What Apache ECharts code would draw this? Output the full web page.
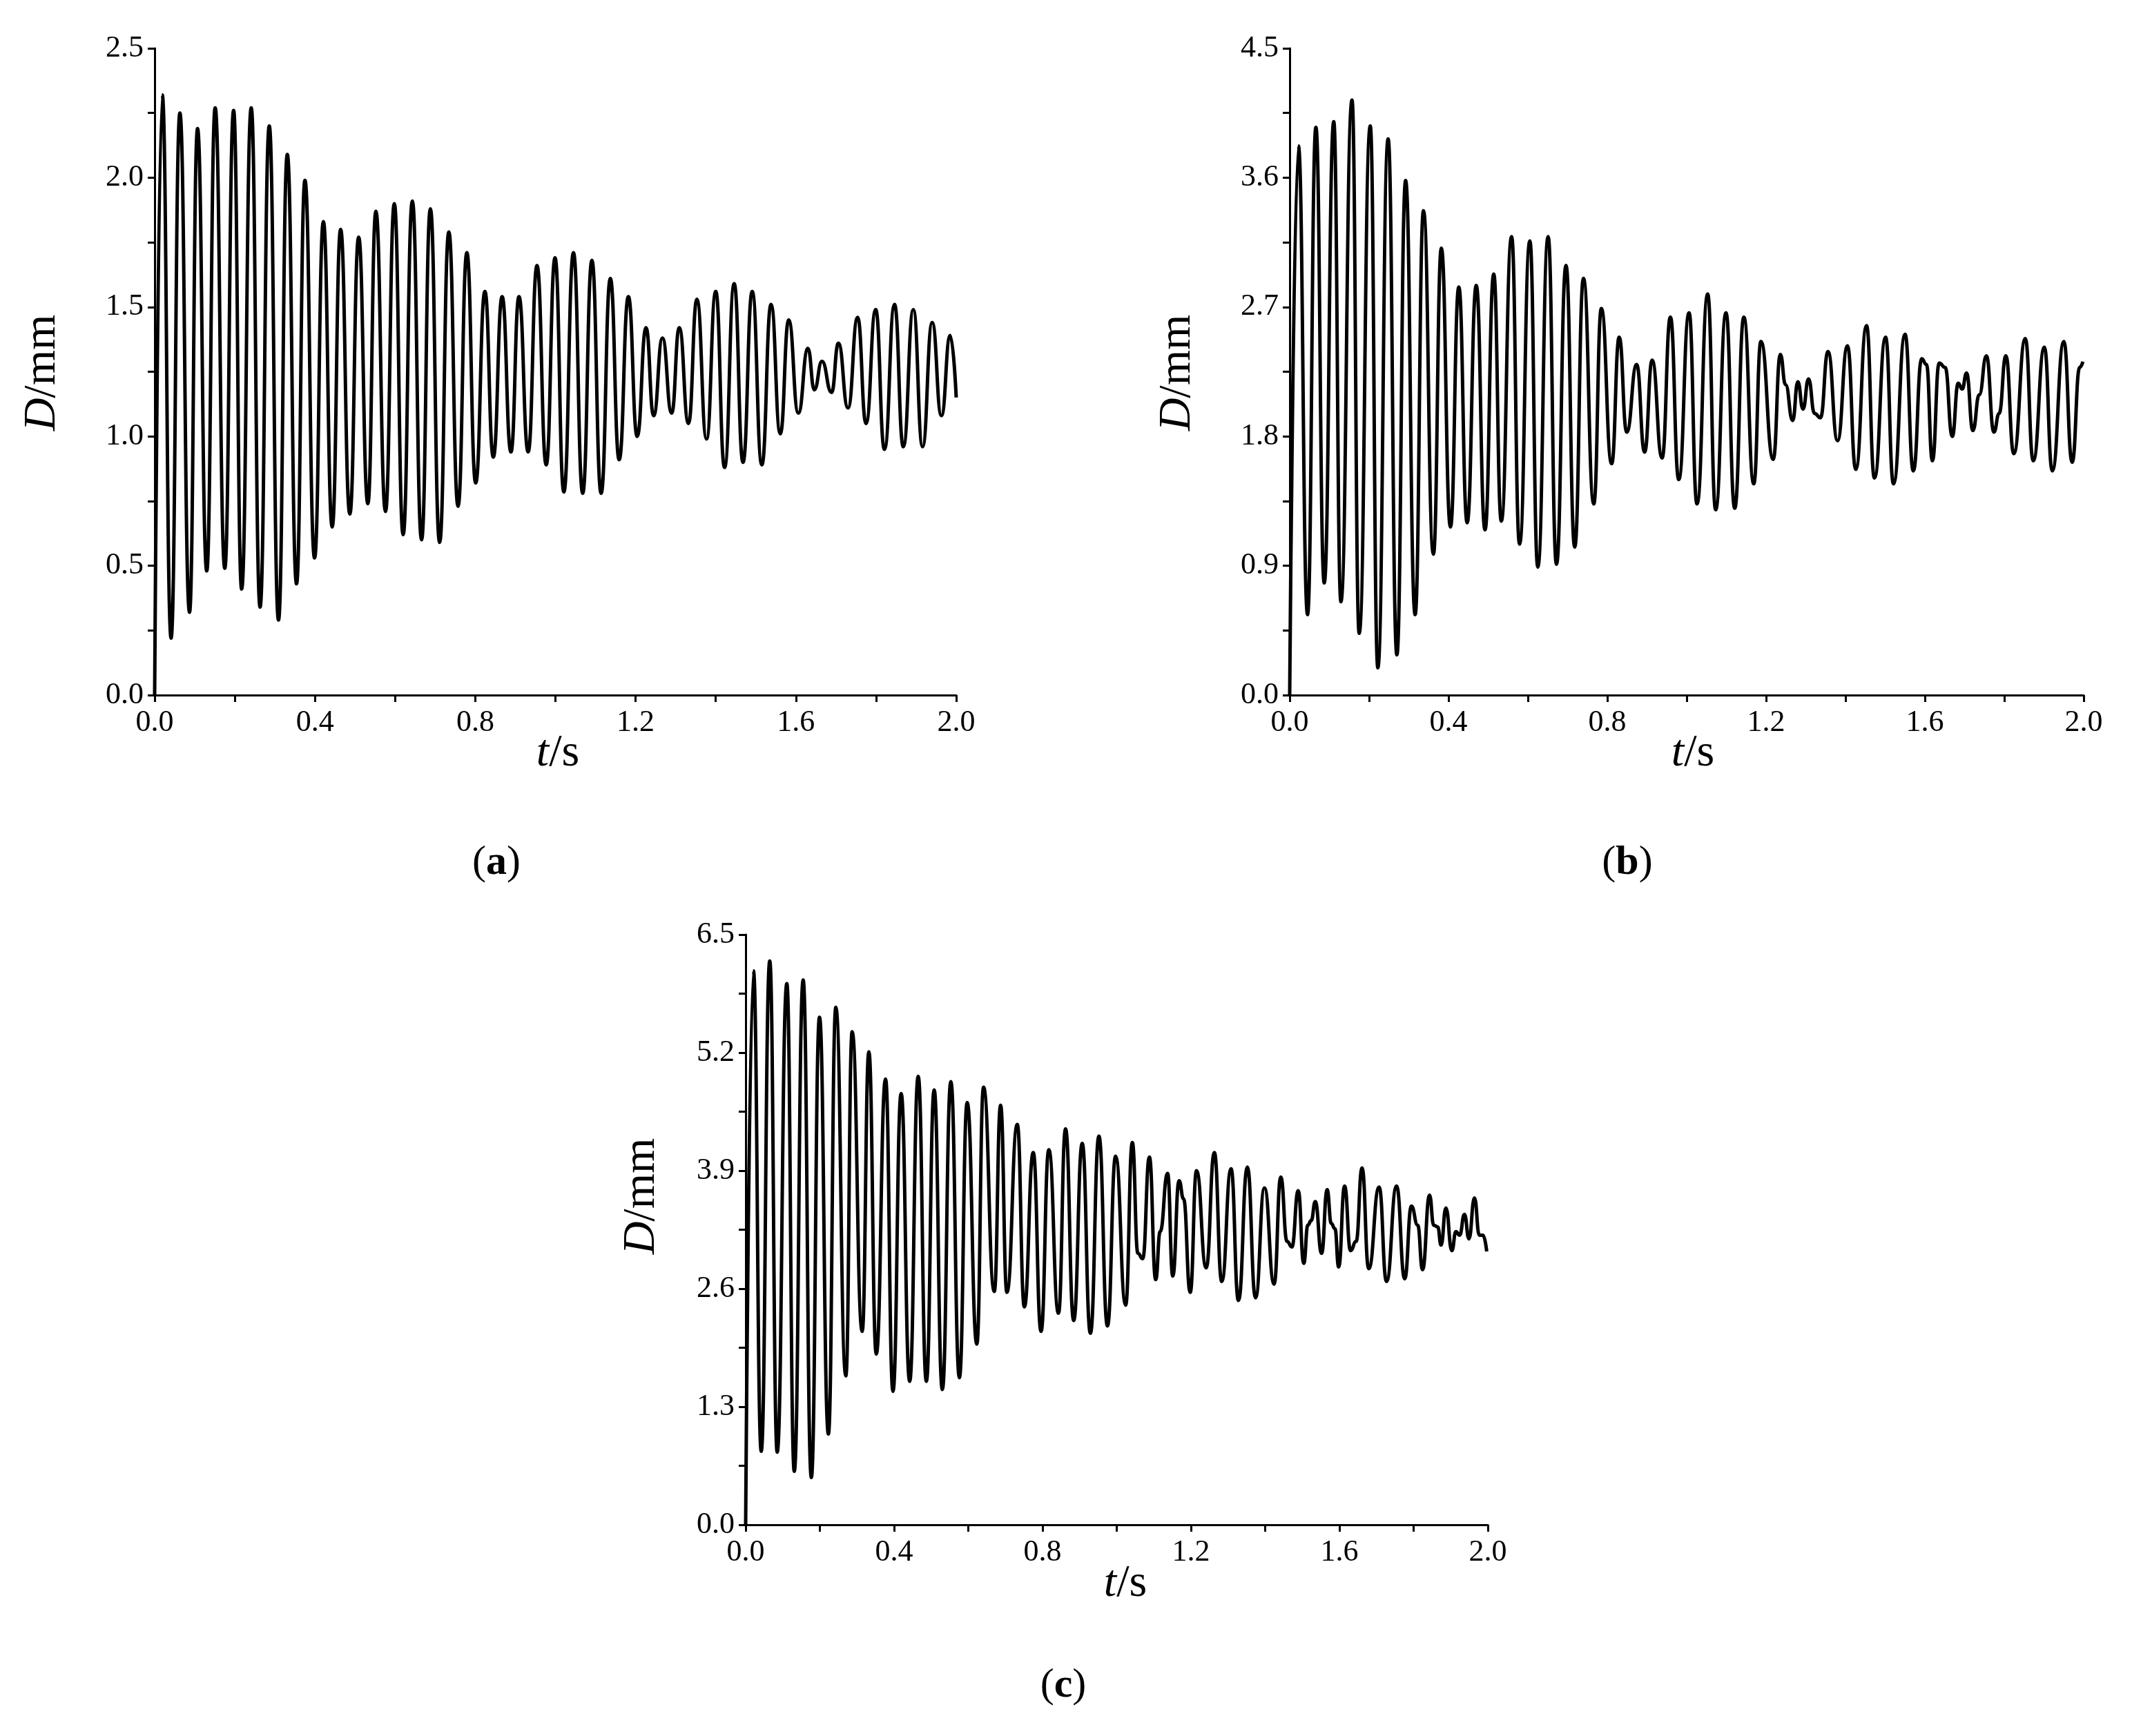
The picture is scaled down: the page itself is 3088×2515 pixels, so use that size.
<!DOCTYPE html>
<html>
<head>
<meta charset="utf-8">
<script src="https://cdn.jsdelivr.net/npm/echarts@6/dist/echarts.min.js"></script>
<style>
  html, body { margin: 0; background: #fff; }
  #chart { width: 3088px; height: 2515px; }
</style>
</head>
<body>
<div id="chart"></div>
<script>
/* ================================
   DATA (peaks / troughs)
================================ */
const aT = [0, .019, .041, .063, .087, .107, .130, .151, .175, .197, .217, .241, .263, .286, .309, .331, .354, .375, .399, .421, .443, .464, .487, .509, .532, .552, .576, .598, .620, .643, .666, .688, .711, .734, .757, .779, .801, .824, .845, .867, .889, .909, .932, .954, .977, .999,
  1.021, 1.045, 1.068, 1.091, 1.114, 1.137, 1.159, 1.182, 1.204, 1.226, 1.245, 1.267, 1.290, 1.309, 1.332, 1.353, 1.377, 1.400, 1.422, 1.446, 1.468, 1.491, 1.515, 1.538, 1.561, 1.582, 1.606, 1.630, 1.646, 1.665, 1.689, 1.706, 1.730, 1.754, 1.775, 1.799, 1.821, 1.846, 1.868, 1.893, 1.916, 1.940, 1.963, 1.985, 2.0];
const aD = [0, 2.32, 0.22, 2.25, 0.32, 2.19, 0.48, 2.27, 0.49, 2.26, 0.41, 2.27, 0.34, 2.20, 0.29, 2.09, 0.43, 1.99, 0.53, 1.83, 0.65, 1.80, 0.70, 1.77, 0.74, 1.87, 0.71, 1.90, 0.62, 1.91, 0.60, 1.88, 0.59, 1.79, 0.73, 1.71, 0.82, 1.56, 0.92, 1.54, 0.94, 1.54, 0.94, 1.66, 0.89, 1.69,
  0.785, 1.71, 0.78, 1.68, 0.78, 1.61, 0.91, 1.54, 1.00, 1.42, 1.08, 1.38, 1.09, 1.42, 1.05, 1.53, 0.99, 1.56, 0.88, 1.59, 0.90, 1.56, 0.89, 1.51, 1.01, 1.45, 1.09, 1.34, 1.18, 1.29, 1.17, 1.36, 1.11, 1.46, 1.05, 1.49, 0.95, 1.51, 0.96, 1.49, 0.96, 1.44, 1.08, 1.39, 1.15];

const bT = [0, .022, .045, .066, .087, .111, .129, .157, .175, .203, .222, .248, .270, .292, .316, .337, .362, .382, .405, .426, .447, .470, .492, .514, .533, .559, .579, .605, .625, .651, .672, .696, .718, .740, .766, .785, .811, .830, .849, .874, .894, .913, .938, .959, .980,
  1.006, 1.026, 1.053, 1.073, 1.099, 1.121, 1.144, 1.169, 1.187, 1.218, 1.236, 1.249, 1.267, 1.280, 1.293, 1.307, 1.322, 1.337, 1.356, 1.380, 1.405, 1.426, 1.453, 1.473, 1.501, 1.521, 1.550, 1.571, 1.592, 1.604, 1.619, 1.636, 1.651, 1.669, 1.684, 1.694, 1.705, 1.721, 1.737, 1.755, 1.774, 1.787, 1.804, 1.824, 1.853, 1.873, 1.901, 1.921, 1.950, 1.971, 1.990, 1.998];
const bD = [0, 3.82, 0.56, 3.95, 0.78, 3.99, 0.65, 4.14, 0.43, 3.96, 0.19, 3.87, 0.28, 3.58, 0.56, 3.37, 0.98, 3.11, 1.17, 2.84, 1.20, 2.85, 1.15, 2.93, 1.21, 3.19, 1.05, 3.16, 0.89, 3.19, 0.91, 2.99, 1.03, 2.90, 1.33, 2.69, 1.61, 2.49, 1.83, 2.30, 1.69, 2.33, 1.65, 2.63, 1.50,
  2.66, 1.33, 2.79, 1.29, 2.66, 1.30, 2.63, 1.47, 2.46, 1.64, 2.37, 2.16, 1.91, 2.18, 1.99, 2.20, 1.96, 1.93, 2.39, 1.77, 2.43, 1.57, 2.57, 1.51, 2.49, 1.47, 2.51, 1.56, 2.34, 2.30, 1.63, 2.31, 2.28, 1.80, 2.17, 2.13, 2.24, 1.84, 2.09, 2.36, 1.83, 1.96, 2.36, 1.68, 2.48, 1.63, 2.42, 1.56, 2.46, 1.62, 2.28, 2.32];

const cT = [0, .021, .042, .065, .085, .111, .131, .155, .177, .199, .223, .243, .270, .287, .314, .332, .352, .377, .397, .419, .442, .465, .487, .508, .530, .553, .576, .597, .623, .641, .670, .687, .704, .732, .751, .775, .796, .817, .843, .862, .884, .907, .929, .952, .975,
  .997, 1.024, 1.042, 1.057, 1.070, 1.088, 1.105, 1.117, 1.137, 1.151, 1.168, 1.180, 1.198, 1.215, 1.241, 1.263, 1.283, 1.308, 1.328, 1.352, 1.374, 1.398, 1.424, 1.442, 1.459, 1.472, 1.489, 1.504, 1.515, 1.524, 1.535, 1.552, 1.567, 1.578, 1.588, 1.598, 1.614, 1.630, 1.645, 1.661, 1.679, 1.707, 1.727, 1.754, 1.776, 1.794, 1.811, 1.824, 1.843, 1.854, 1.865, 1.874, 1.887, 1.903, 1.914, 1.924, 1.937, 1.949, 1.964, 1.977, 1.987, 1.997];
const cD = [0, 6.10, 0.81, 6.21, 0.80, 5.96, 0.59, 6.00, 0.52, 5.59, 1.00, 5.70, 1.64, 5.43, 2.13, 5.21, 1.88, 4.91, 1.47, 4.75, 1.58, 4.94, 1.58, 4.79, 1.49, 4.88, 1.62, 4.65, 1.99, 4.82, 2.57, 4.62, 2.56, 4.41, 2.40, 4.10, 2.13, 4.13, 2.33, 4.36, 2.25, 4.20, 2.11, 4.28, 2.19,
  4.06, 2.42, 4.21, 2.99, 2.93, 4.05, 2.70, 3.23, 3.87, 2.74, 3.79, 3.59, 2.56, 3.90, 2.83, 4.10, 2.68, 3.92, 2.47, 3.94, 2.50, 3.71, 2.65, 3.83, 3.12, 3.06, 3.68, 2.88, 3.30, 3.35, 3.56, 2.99, 3.69, 3.32, 3.26, 2.84, 3.73, 3.02, 3.12, 3.93, 2.82, 3.72, 2.68, 3.73, 2.71, 3.51, 3.30, 2.81, 3.63, 3.30, 3.28, 3.08, 3.49, 3.02, 3.23, 3.19, 3.42, 3.15, 3.60, 3.19, 3.19, 3.01];

const yMax  = [2.5, 4.5, 6.5];
const yStep = [0.5, 0.9, 1.3];
const panelTags = ["(a)", "(b)", "(c)"];

/* ================================
   BUILD OPTION
================================ */
const FONT = "Liberation Serif";
const grids = [
  { left: 224, top: 70, width: 1161, height: 937 },
  { left: 1868, top: 70, width: 1150, height: 937 },
  { left: 1080, top: 1354, width: 1075, height: 855 }
];
const series = [[aT, aD], [bT, bD], [cT, cD]];

const axisCommon = {
  axisLine: { show: true, onZero: false, lineStyle: { color: "#000", width: 3 } },
  axisTick: { show: true, length: 10, lineStyle: { color: "#000", width: 3 } },
  minorTick: { show: true, splitNumber: 2, length: 10, lineStyle: { color: "#000", width: 3 } },
  splitLine: { show: false },
  axisLabel: { color: "#000", fontFamily: FONT, fontSize: 44, formatter: v => v.toFixed(1) }
};

const option = {
  backgroundColor: "#fff",
  animation: false,
  grid: grids,
  xAxis: grids.map((g, i) => Object.assign({}, axisCommon, {
    type: "value", gridIndex: i, min: 0, max: 2, interval: 0.4,
    axisLabel: Object.assign({}, axisCommon.axisLabel, { margin: 18 })
  })),
  yAxis: grids.map((g, i) => Object.assign({}, axisCommon, {
    type: "value", gridIndex: i, min: 0, max: yMax[i], interval: yStep[i],
    axisLabel: Object.assign({}, axisCommon.axisLabel, { margin: 16 })
  })),
  series: series.map((s, i) => ({
    type: "line",
    xAxisIndex: i, yAxisIndex: i,
    data: s[0].map((t, k) => [t, s[1][k]]),
    showSymbol: false,
    smooth: 0.5,
    smoothMonotone: "x",
    lineStyle: { color: "#000", width: 5 }
  })),
  graphic: []
};

/* ================================
   AXIS TITLES + PANEL TAGS
================================ */
const rich = {
  i: { fontFamily: FONT, fontStyle: "italic", fontSize: 66, fill: "#000" },
  n: { fontFamily: FONT, fontSize: 66, fill: "#000" },
  b: { fontFamily: FONT, fontWeight: "bold", fontSize: 60, fill: "#000" },
  p: { fontFamily: FONT, fontSize: 60, fill: "#000" }
};
const yTitlePos = [[62, 540], [1706, 540], [930, 1733]];
const xTitlePos = [[808, 1092], [2452, 1092], [1630, 2295]];
const tagPos = [[719, 1250], [2357, 1250], [1540, 2442]];

grids.forEach((g, i) => {
  option.graphic.push({
    type: "text", x: yTitlePos[i][0], y: yTitlePos[i][1], rotation: Math.PI / 2,
    style: { text: "{i|D}{n|/mm}", rich: rich, align: "center", verticalAlign: "middle" }
  });
  option.graphic.push({
    type: "text", x: xTitlePos[i][0], y: xTitlePos[i][1],
    style: { text: "{i|t}{n|/s}", rich: rich, align: "center", verticalAlign: "middle" }
  });
  option.graphic.push({
    type: "text", x: tagPos[i][0], y: tagPos[i][1],
    style: { text: "{p|(}{b|" + panelTags[i].slice(1, -1) + "}{p|)}", rich: rich, align: "center", verticalAlign: "middle" }
  });
});

const chart = echarts.init(document.getElementById("chart"));
chart.setOption(option);
</script>
</body>
</html>
